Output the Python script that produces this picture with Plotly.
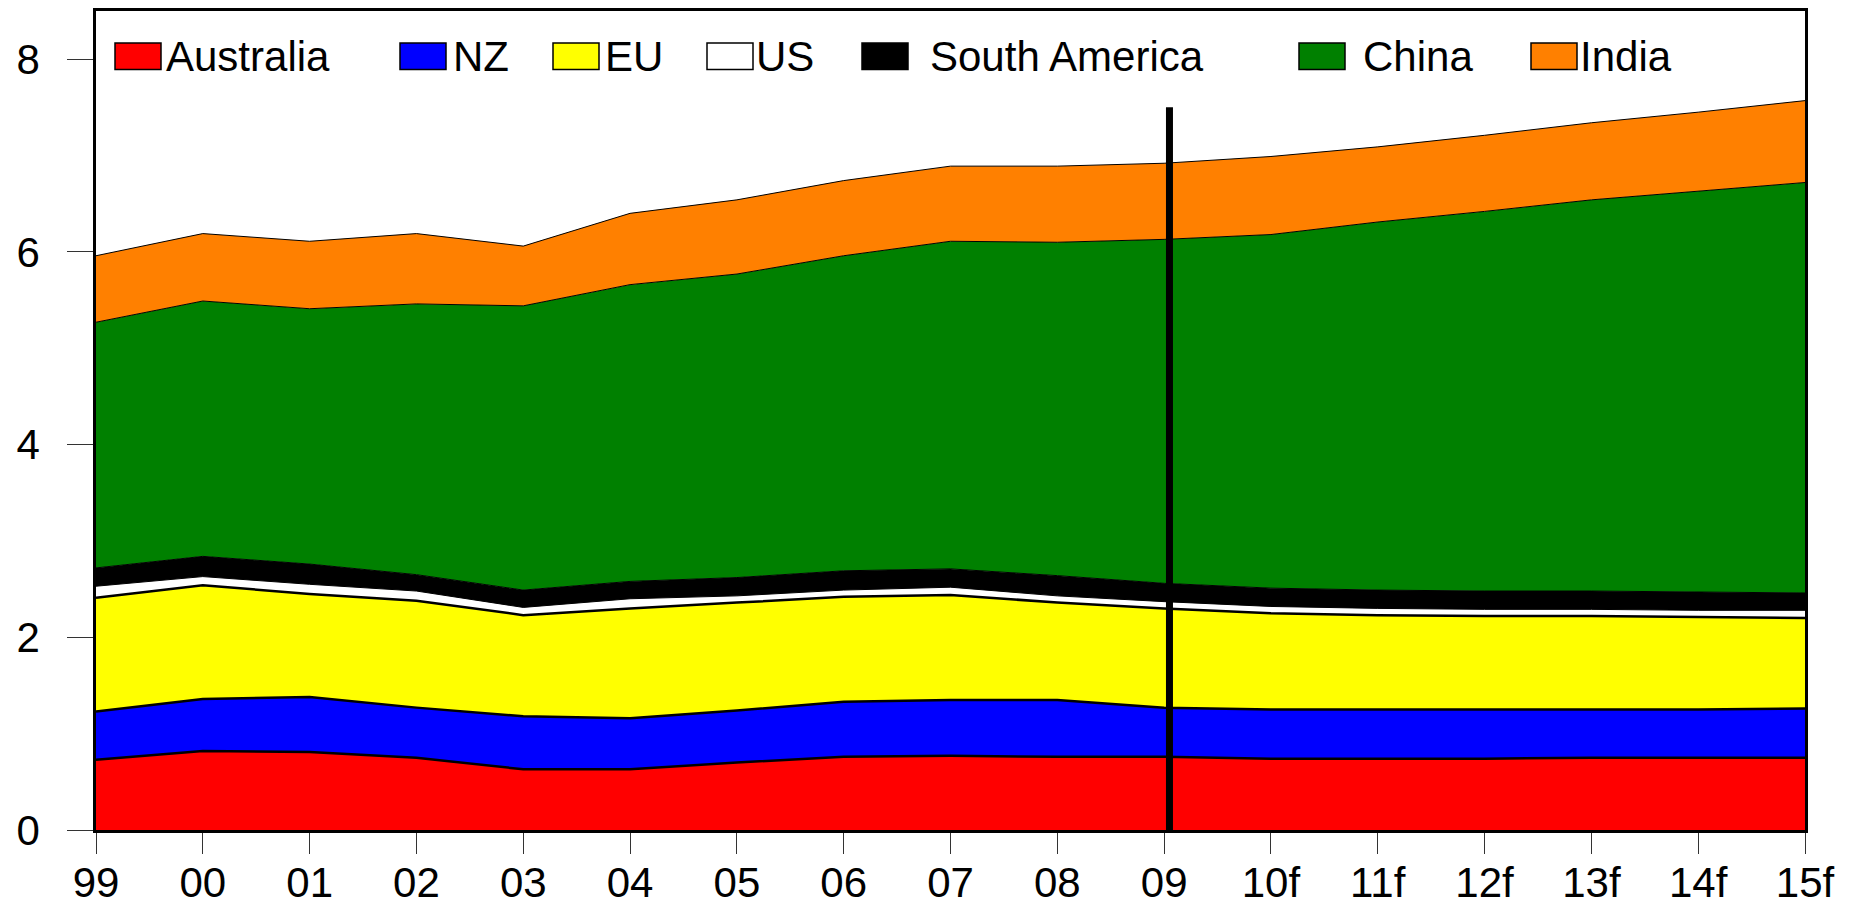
import plotly.graph_objects as go

# ---- data (million tonnes, stacked) ----
years = ["99", "00", "01", "02", "03", "04", "05", "06", "07", "08", "09",
         "10f", "11f", "12f", "13f", "14f", "15f"]
australia = [0.73, 0.82, 0.81, 0.75, 0.63, 0.63, 0.70, 0.76, 0.77, 0.76, 0.76,
             0.74, 0.74, 0.74, 0.75, 0.75, 0.75]
nz = [0.50, 0.54, 0.57, 0.52, 0.55, 0.53, 0.54, 0.57, 0.58, 0.59, 0.51,
      0.51, 0.51, 0.51, 0.50, 0.50, 0.51]
eu = [1.18, 1.18, 1.07, 1.11, 1.05, 1.14, 1.12, 1.09, 1.09, 1.01, 1.03,
      1.00, 0.98, 0.97, 0.97, 0.96, 0.94]
us = [0.12, 0.09, 0.10, 0.10, 0.08, 0.10, 0.07, 0.07, 0.08, 0.07, 0.07,
      0.07, 0.07, 0.07, 0.07, 0.07, 0.08]
south_america = [0.19, 0.21, 0.21, 0.17, 0.18, 0.18, 0.19, 0.20, 0.19, 0.21, 0.19,
                 0.19, 0.19, 0.19, 0.19, 0.19, 0.18]
china = [2.55, 2.65, 2.65, 2.81, 2.95, 3.08, 3.15, 3.27, 3.40, 3.46, 3.57,
         3.67, 3.82, 3.94, 4.06, 4.16, 4.26]
india = [0.69, 0.70, 0.70, 0.73, 0.62, 0.74, 0.77, 0.78, 0.78, 0.79, 0.79,
         0.81, 0.78, 0.79, 0.80, 0.82, 0.85]
y_ticks = [0, 2, 4, 6, 8]
forecast_divider_x = 10.05   # just after "09"
forecast_divider_top = 7.5

series_names = ["Australia", "NZ", "EU", "US", "South America", "China", "India"]
series_values = [australia, nz, eu, us, south_america, china, india]
series_colors = ["#FF0000", "#0000FF", "#FFFF00", "#FFFFFF", "#000000", "#008000", "#FF8000"]
line_widths = [2.5, 2.5, 2.5, 1, 1, 1, 1]

W, H = 1852, 907
ML, MR, MT, MB = 96, 47, 11, 77
PW, PH = W - ML - MR, H - MT - MB


def px(x):
    return (x - ML) / PW


def py(y):
    return 1 - (y - MT) / PH


FONT = "Liberation Sans, Arial, sans-serif"
xs = list(range(len(years)))

fig = go.Figure()
for name, vals, col, lw in zip(series_names, series_values, series_colors, line_widths):
    fig.add_trace(go.Scatter(
        x=xs, y=vals, name=name, mode="lines", stackgroup="one",
        fillcolor=col, line=dict(color="black", width=lw),
        showlegend=False,
    ))

shapes = []
annotations = []
# vertical divider between actual and forecast
shapes.append(dict(type="line", xref="x", yref="y",
                   x0=forecast_divider_x, x1=forecast_divider_x,
                   y0=0, y1=forecast_divider_top,
                   line=dict(color="black", width=7)))

# manual legend (positions in pixels)
box_left = [115, 400, 553, 707, 862, 1299, 1531]
text_left = [164, 451, 603, 754, 928, 1361, 1578]
box_w, box_top, box_bot = 46, 43, 69.5
for name, col, bx, tx in zip(series_names, series_colors, box_left, text_left):
    shapes.append(dict(type="rect", xref="paper", yref="paper",
                       x0=px(bx), x1=px(bx + box_w), y0=py(box_bot), y1=py(box_top),
                       fillcolor=col, line=dict(color="black", width=1.5)))
    annotations.append(dict(xref="paper", yref="paper", x=px(tx), y=py(56),
                            xanchor="left", yanchor="middle", showarrow=False,
                            text=name, font=dict(family=FONT, size=42, color="black")))

fig.update_layout(
    width=W, height=H,
    margin=dict(l=ML, r=MR, t=MT, b=MB, autoexpand=False),
    paper_bgcolor="white", plot_bgcolor="white",
    shapes=shapes, annotations=annotations,
    font=dict(family=FONT, size=42, color="black"),
    xaxis=dict(range=[0, len(years) - 1], tickmode="array", tickvals=xs, ticktext=years,
               showgrid=False, zeroline=False, showline=True, mirror=True,
               linecolor="black", linewidth=2.5, ticks="outside", ticklen=21,
               tickwidth=1, tickcolor="#333", ticklabelstandoff=-7, automargin=False,
               tickfont=dict(family=FONT, size=42, color="black")),
    yaxis=dict(range=[0, 8.5], tickmode="array", tickvals=y_ticks,
               showgrid=False, zeroline=False, showline=True, mirror=True,
               linecolor="black", linewidth=2.5, ticks="outside", ticklen=26,
               tickwidth=1, tickcolor="#333", ticklabelstandoff=19, automargin=False,
               tickfont=dict(family=FONT, size=42, color="black")),
)

fig.write_html(
    "out.html",
    config={"displayModeBar": False},
    post_script="document.body.style.margin='0';document.body.style.overflow='hidden';",
)
